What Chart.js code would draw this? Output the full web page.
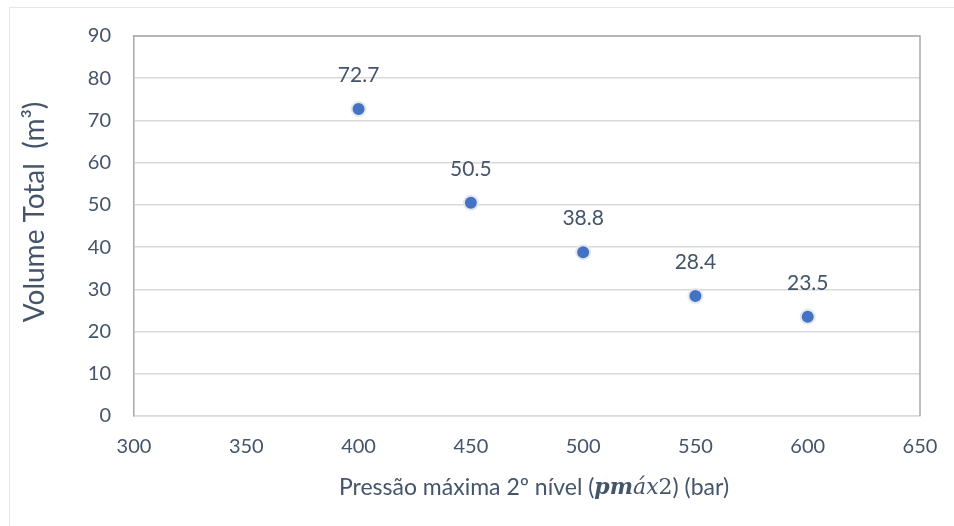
<!DOCTYPE html>
<html>
<head>
<meta charset="utf-8">
<script src="https://cdn.jsdelivr.net/npm/chart.js@4/dist/chart.umd.min.js"></script>
<style>
  html, body { margin: 0; padding: 0; background: #ffffff; }
  #wrap { width: 954px; height: 526px; position: relative; }
</style>
</head>
<body>
<div id="wrap"><canvas id="c" width="954" height="526"></canvas></div>
<script>
// Pressão máxima do 2º nível (bar) e volume total resultante (m³)
const pressures = [400, 450, 500, 550, 600];
const volumes = [72.7, 50.5, 38.8, 28.4, 23.5];
const xTicks = [300, 350, 400, 450, 500, 550, 600, 650];
const yTicks = [0, 10, 20, 30, 40, 50, 60, 70, 80, 90];

const TEXT = '#44546A';
const FONT = 'Lato, "Open Sans", sans-serif';

// Frame around the chart, top/right plot border, point labels and axis titles
const decorations = {
  id: 'decorations',
  beforeDraw(chart) {
    const ctx = chart.ctx;
    ctx.save();
    ctx.strokeStyle = '#e3e6ea';
    ctx.lineWidth = 1;
    ctx.beginPath();
    ctx.moveTo(9.5, 526);
    ctx.lineTo(9.5, 7.5);
    ctx.lineTo(954, 7.5);
    ctx.stroke();
    ctx.restore();
  },
  afterDraw(chart) {
    const ctx = chart.ctx;
    const a = chart.chartArea;
    ctx.save();
    // top and right edges of the plot
    ctx.strokeStyle = '#a9a9a9';
    ctx.lineWidth = 1.5;
    ctx.beginPath();
    ctx.moveTo(a.left, a.top);
    ctx.lineTo(a.right, a.top);
    ctx.lineTo(a.right, a.bottom);
    ctx.stroke();

    // value labels above points
    const meta = chart.getDatasetMeta(0);
    ctx.fillStyle = TEXT;
    ctx.font = '21px ' + FONT;
    ctx.textAlign = 'center';
    ctx.textBaseline = 'middle';
    meta.data.forEach((pt, i) => {
      ctx.fillText(volumes[i].toFixed(1), pt.x, pt.y - 34);
    });

    // y-axis title
    ctx.save();
    ctx.translate(35, 212);
    ctx.rotate(-Math.PI / 2);
    ctx.font = '28px ' + FONT;
    ctx.textAlign = 'center';
    ctx.textBaseline = 'middle';
    ctx.fillText('Volume Total  (m³)', 0, 0);
    ctx.restore();

    // x-axis title with the pmáx2 symbol set in math style
    const parts = [
      { t: 'Pressão máxima 2º nível (', f: '23px ' + FONT },
      { t: 'pm', f: 'italic bold 22px "DejaVu Serif", serif' },
      { t: 'áx', f: 'italic 22px "DejaVu Serif", serif' },
      { t: '2', f: '22px "DejaVu Serif", serif' },
      { t: ') (bar)', f: '23px ' + FONT }
    ];
    let total = 0;
    parts.forEach(p => { ctx.font = p.f; p.w = ctx.measureText(p.t).width; total += p.w; });
    let x = 534 - total / 2;
    ctx.textAlign = 'left';
    ctx.textBaseline = 'middle';
    parts.forEach(p => { ctx.font = p.f; ctx.fillText(p.t, x, 488); x += p.w; });
    ctx.restore();
  }
};

new Chart(document.getElementById('c'), {
  type: 'scatter',
  data: {
    datasets: [{
      data: pressures.map((p, i) => ({ x: p, y: volumes[i] })),
      backgroundColor: '#4472C4',
      borderColor: '#e4e7ec',
      borderWidth: 2,
      pointRadius: 7,
      pointHoverRadius: 7
    }]
  },
  options: {
    responsive: false,
    animation: false,
    devicePixelRatio: 1,
    layout: { padding: { top: 36, right: 34, left: 0, bottom: 0 } },
    plugins: { legend: { display: false }, tooltip: { enabled: false } },
    scales: {
      x: {
        type: 'linear',
        min: xTicks[0],
        max: xTicks[xTicks.length - 1],
        afterBuildTicks: s => { s.ticks = xTicks.map(v => ({ value: v })); },
        afterFit: s => { s.height = 110; s.paddingLeft = 0; s.paddingRight = 0; },
        grid: { display: false, drawTicks: false },
        border: { color: '#d9d9d9', width: 1.5 },
        ticks: { color: TEXT, font: { family: FONT, size: 20 }, padding: 19, maxRotation: 0 }
      },
      y: {
        type: 'linear',
        min: yTicks[0],
        max: yTicks[yTicks.length - 1],
        afterBuildTicks: s => { s.ticks = yTicks.map(v => ({ value: v })); },
        afterFit: s => { s.width = 134; s.paddingTop = 0; s.paddingBottom = 0; },
        grid: { color: '#d9d9d9', lineWidth: 1.5, drawTicks: false },
        border: { color: '#a9a9a9', width: 1.5 },
        ticks: { color: TEXT, font: { family: FONT, size: 20 }, padding: 23 }
      }
    }
  },
  plugins: [decorations]
});
</script>
</body>
</html>
